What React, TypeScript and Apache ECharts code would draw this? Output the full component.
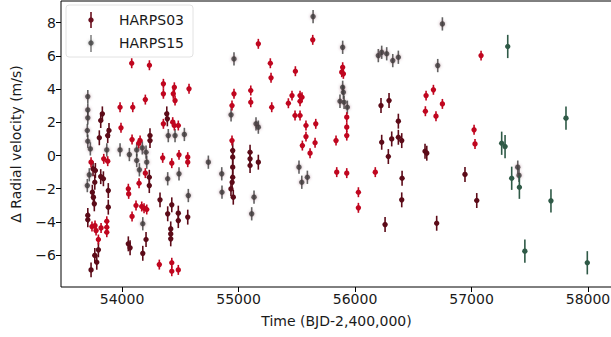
import React, { useEffect, useRef } from "react";
import * as echarts from "echarts";

// HARPS03 – red points [time, rv]
const harps03Red: number[][] = [
  [54083, 5.56], [54235, 5.44], [54355, 4.32], [54355, 3.72], [54449, 4.11], [54440, 3.72],
  [54455, 3.31], [54575, 4.02], [54200, 3.37], [53983, 2.91], [54092, 2.91], [54355, 1.91],
  [54435, 2.01], [54449, 1.81], [54483, 1.81], [53991, 1.67], [54086, 0.96], [54155, 0.9],
  [54143, 0.74], [53843, -0.2], [53877, -0.34], [53734, -0.4], [54349, -0.14], [54427, -0.46],
  [54489, 0.04], [54564, -0.1], [54564, -0.4], [54200, -1.06], [54146, -1.67], [54054, -2.0],
  [54057, -2.31], [54120, -3.01], [54169, -3.07], [54189, -3.17], [54212, -3.25], [54086, -3.67],
  [53742, -4.28], [53768, -4.22], [53777, -4.52], [53820, -4.36], [53869, -3.96], [53869, -4.32],
  [53869, -4.62], [53797, -5.06], [54320, -6.57], [54427, -6.46], [54427, -6.97], [54483, -6.89],
  [55170, 6.73], [55637, 6.97], [55273, 5.56], [55488, 5.08], [55279, 4.68], [55894, 5.32],
  [55886, 5.02], [55900, 4.92], [54961, 3.72], [55105, 3.92], [55105, 3.21], [55459, 3.61],
  [55528, 3.61], [55545, 3.51], [55528, 3.27], [55428, 3.15], [54944, 3.01], [55285, 2.91],
  [55485, 2.41], [55528, 2.41], [55929, 2.31], [55929, 1.71], [55929, 1.2], [55579, 1.81],
  [55663, 1.91], [55579, 1.14], [55657, 0.77], [55548, 0.6], [55837, 0.9], [54944, 0.9],
  [55614, 0.14], [55843, -1.0], [55929, -1.06], [56029, -2.21], [56029, -3.15],
  [57082, 6.02], [56610, 3.61], [56673, 3.96], [56750, 3.11], [56604, 2.67], [56695, 2.37],
  [57022, 1.55], [57030, 0.7], [56174, -1.0],
];

// HARPS03 – dark maroon points
const harps03Dark: number[][] = [
  [53831, 2.51], [53817, 2.11], [54384, 2.51], [54389, 2.21], [53888, 1.51], [53877, 1.2],
  [53805, 1.07], [54240, 1.2], [54240, 0.9], [53751, -0.8], [53771, -0.9], [53817, -1.27],
  [53840, -1.4], [54234, -1.31], [54234, -1.81], [53766, -1.61], [53882, -2.11], [53745, -2.21],
  [53754, -2.51], [54326, -2.67], [53762, -2.91], [54427, -2.97], [53882, -3.11], [54392, -3.51],
  [54483, -3.47], [54483, -3.92], [54564, -3.71], [53706, -3.61], [53706, -3.87], [54418, -4.42],
  [54418, -4.72], [54418, -5.02], [54206, -5.06], [54054, -5.32], [54069, -5.56], [53797, -5.68],
  [54178, -5.89], [53766, -6.02], [53783, -6.43], [53734, -6.89],
  [54950, 0.3], [54950, -0.1], [54950, -0.7], [54950, -1.31], [54945, -1.61], [54935, -2.01],
  [54955, -2.51], [55099, 0.2], [55099, -0.2], [55099, -0.6], [55170, -0.4],
  [56223, 3.01], [56292, 3.31], [56372, 2.07], [56229, 0.8], [56315, 1.0], [56372, 1.1],
  [56401, 0.9], [56286, -0.06], [56601, 0.26], [56616, 0.14], [56404, -1.37], [56944, -1.14],
  [56401, -2.67], [57045, -2.71], [56258, -4.16], [56701, -4.08],
];

// faded grey points
const greyPoints: number[][] = [
  [53706, 3.55], [53706, 2.75], [53706, 2.27], [53702, 1.51], [54397, 1.2], [54455, 1.2],
  [54535, 1.27], [53706, 0.86], [53728, 0.4], [53869, 0.34], [53983, 0.34], [54126, 0.34],
  [54174, 0.46], [54063, 0.06], [54206, 0.2], [54126, -0.3], [54212, -0.4], [54741, -0.4],
  [54149, -0.86], [54489, -1.1], [54392, -1.4], [53719, -1.16], [53702, -1.81], [54569, -2.41],
  [54178, -4.11],
  [54961, 5.82], [55894, 6.52], [55894, 4.11], [55900, 3.81], [55871, 3.27], [55906, 3.21],
  [55934, 2.91], [54936, 2.45], [55150, 1.91], [55170, 1.71], [54856, -1.1], [54858, -2.21],
  [55133, -2.51], [55113, -3.51], [55519, -0.7], [55591, -1.31], [55543, -1.61],
  [56750, 7.93], [56200, 6.02], [56229, 6.22], [56272, 6.13], [56324, 5.72], [56372, 5.92],
  [56710, 5.42], [55640, 8.37], [57397, -0.7], [57408, -1.2],
];

// HARPS15 – green points
const harps15: number[][] = [
  [57311, 6.57], [57811, 2.25], [57259, 0.74], [57288, 0.54], [57345, -1.37], [57411, -1.91],
  [57682, -2.73], [57458, -5.76], [57994, -6.46],
];

const RED_ERR = 0.3;
const DARK_ERR = 0.45;
const GREY_ERR = 0.4;
const H15_ERR = 0.7;

const X_TICKS = [54000, 55000, 56000, 57000, 58000];
const Y_TICKS = [-6, -4, -2, 0, 2, 4, 6, 8];

const FONT = "DejaVu Sans";

function errSeries(name: string, pts: number[][], err: number, color: string, opacity: number, blur: number) {
  return {
    type: "custom",
    name,
    clip: true,
    data: pts.map((p) => [p[0], p[1], err]),
    encode: { x: 0, y: 1 },
    renderItem: (params: any, api: any) => {
      const x = api.value(0);
      const y = api.value(1);
      const e = api.value(2);
      const c = api.coord([x, y]);
      const t = api.coord([x, y + e]);
      const b = api.coord([x, y - e]);
      return {
        type: "group",
        children: [
          {
            type: "line",
            shape: { x1: c[0], y1: t[1], x2: c[0], y2: b[1] },
            style: { stroke: color, lineWidth: 1.6, opacity },
          },
          {
            type: "circle",
            shape: { cx: c[0], cy: c[1], r: 2.7 },
            style: {
              fill: color,
              opacity,
              shadowBlur: blur,
              shadowColor: blur ? "rgba(120,60,80,0.6)" : "transparent",
            },
          },
        ],
      };
    },
  };
}

export default function App() {
  const ref = useRef<HTMLDivElement>(null);
  useEffect(() => {
    if (!ref.current) return;
    const chart = echarts.init(ref.current, null, { renderer: "svg" });
    const minus = (v: number) => String(v).replace("-", "\u2212");
    chart.setOption({
      animation: false,
      grid: {
        left: 61,
        top: 1,
        width: 551,
        height: 286,
        show: true,
        borderColor: "#000",
        borderWidth: 1,
      },
      xAxis: {
        type: "value",
        min: 53476,
        max: 58206,
        name: "Time (BJD-2,400,000)",
        nameLocation: "middle",
        nameGap: 27,
        nameTextStyle: { fontFamily: FONT, fontSize: 14, color: "#1a1a1a" },
        axisLine: { show: false, onZero: false },
        splitLine: { show: false },
        axisTick: { show: true, length: 5, lineStyle: { color: "#000" }, customValues: X_TICKS },
        axisLabel: {
          customValues: X_TICKS,
          fontFamily: FONT,
          fontSize: 14,
          color: "#1a1a1a",
          margin: 5,
          formatter: (v: number) => String(v),
        },
      },
      yAxis: {
        type: "value",
        min: -7.92,
        max: 9.31,
        name: "\u0394 Radial velocity (m/s)",
        nameLocation: "middle",
        nameGap: 38,
        nameTextStyle: { fontFamily: FONT, fontSize: 14, color: "#1a1a1a" },
        axisLine: { show: false, onZero: false },
        splitLine: { show: false },
        axisTick: { show: true, length: 5, lineStyle: { color: "#000" }, customValues: Y_TICKS },
        axisLabel: {
          customValues: Y_TICKS,
          fontFamily: FONT,
          fontSize: 14,
          color: "#1a1a1a",
          margin: 5,
          formatter: minus,
        },
      },
      series: [
        errSeries("grey", greyPoints, GREY_ERR, "#3c3c3c", 0.8, 3),
        errSeries("HARPS03 dark", harps03Dark, DARK_ERR, "#5c0b18", 1, 0),
        errSeries("HARPS03", harps03Red, RED_ERR, "#c0061f", 1, 0),
        errSeries("HARPS15", harps15, H15_ERR, "#2f5a47", 1, 0),
      ],
      graphic: [
        {
          type: "rect",
          z: 100,
          shape: { x: 66, y: 5, width: 127, height: 52, r: 3 },
          style: { fill: "rgba(255,255,255,0.85)", stroke: "#e2e2e2", lineWidth: 1 },
        },
        {
          type: "line",
          z: 101,
          shape: { x1: 91, y1: 12, x2: 91, y2: 28 },
          style: { stroke: "#6a0f1e", lineWidth: 1.6 },
        },
        {
          type: "circle",
          z: 101,
          shape: { cx: 91, cy: 20, r: 2.7 },
          style: { fill: "#6a0f1e" },
        },
        {
          type: "line",
          z: 101,
          shape: { x1: 91, y1: 35, x2: 91, y2: 52 },
          style: { stroke: "#666", lineWidth: 1.6, opacity: 0.8 },
        },
        {
          type: "circle",
          z: 101,
          shape: { cx: 91, cy: 43, r: 2.7 },
          style: { fill: "#444", opacity: 0.8, shadowBlur: 3, shadowColor: "rgba(90,90,90,0.6)" },
        },
        {
          type: "text",
          z: 101,
          x: 119,
          y: 20,
          style: { text: "HARPS03", fontFamily: FONT, fontSize: 14, fill: "#1a1a1a", verticalAlign: "middle" },
        },
        {
          type: "text",
          z: 101,
          x: 119,
          y: 43,
          style: { text: "HARPS15", fontFamily: FONT, fontSize: 14, fill: "#1a1a1a", verticalAlign: "middle" },
        },
      ],
    });
    return () => chart.dispose();
  }, []);
  return (
    <div
      ref={ref}
      style={{ position: "fixed", left: 0, top: 0, width: 620, height: 337, background: "#fff" }}
    />
  );
}
